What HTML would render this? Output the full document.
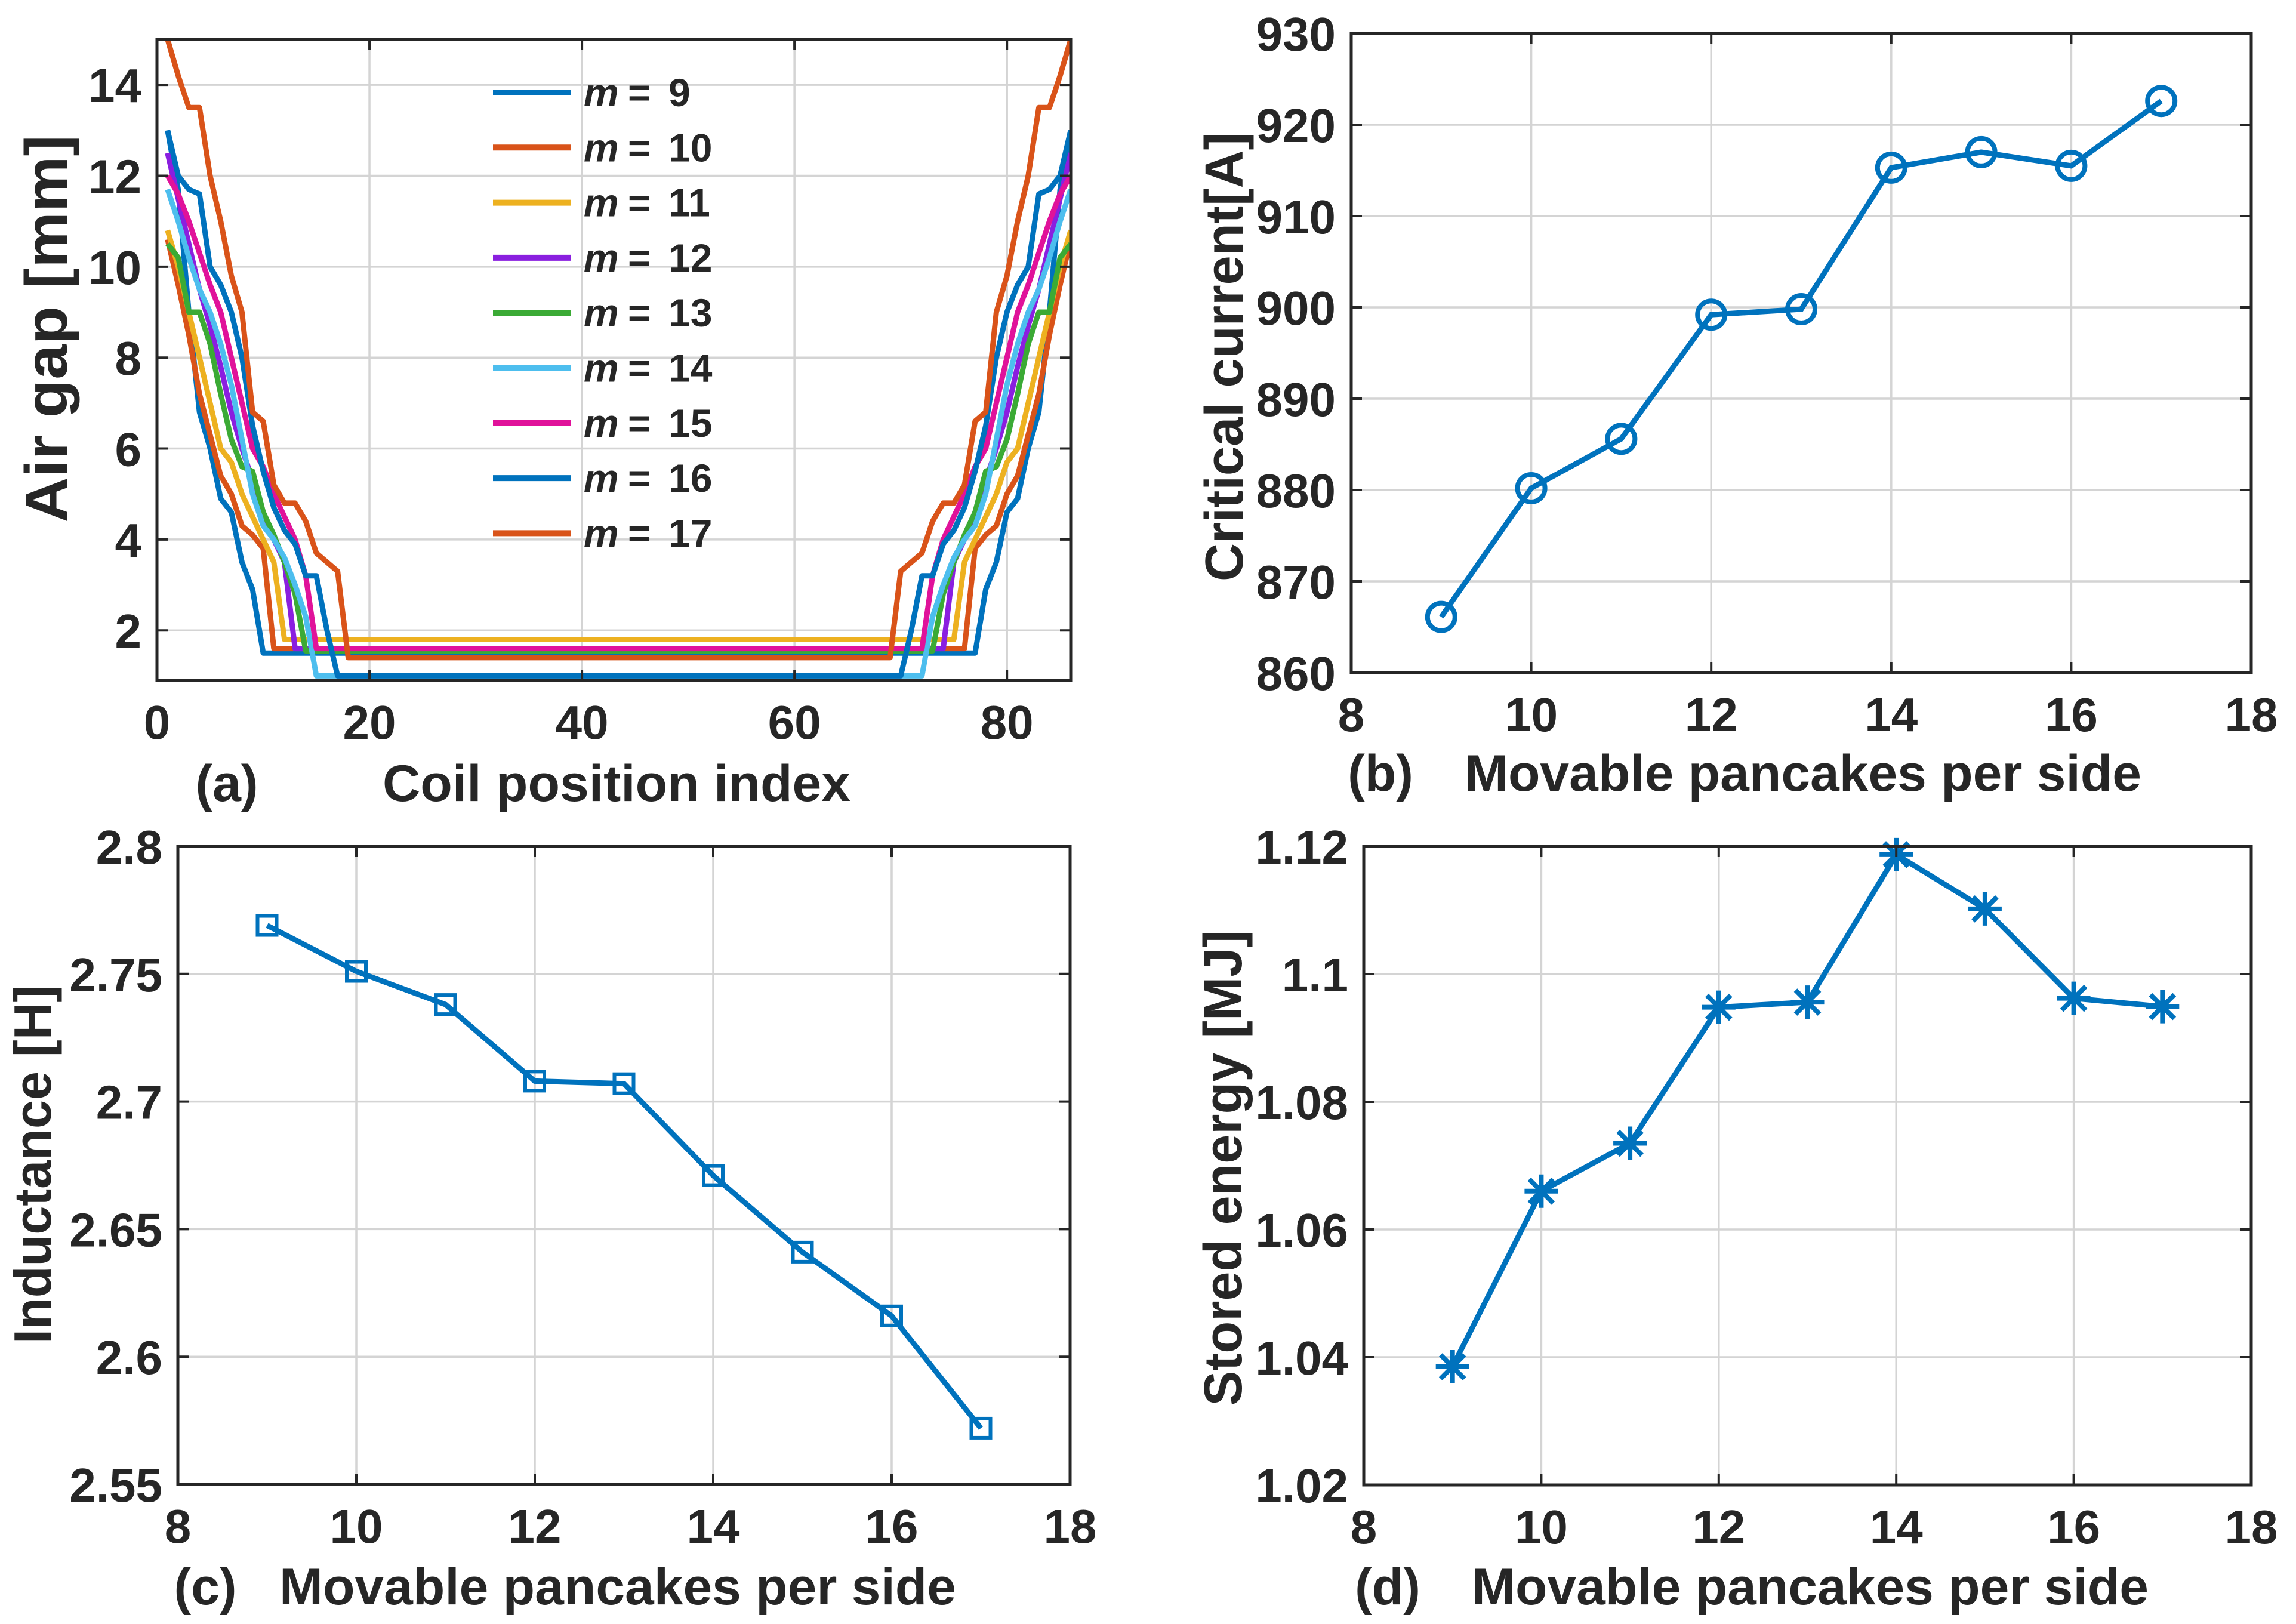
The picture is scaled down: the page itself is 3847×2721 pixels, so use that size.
<!DOCTYPE html>
<html><head><meta charset="utf-8"><style>
html,body{margin:0;padding:0;background:#fff;}
svg{display:block;font-family:"Liberation Sans",Arial,sans-serif;font-weight:bold;}
</style></head><body>
<svg id="fig" width="3847" height="2721" viewBox="0 0 3847 2721" xmlns="http://www.w3.org/2000/svg"></svg>
<script>
// ---- data: panel (a) air gap, left-half keypoints per m (right half is mirrored at 87-x)
const gapLabels = ["9","10","11","12","13","14","15","16","17"];
const gapColors = ["#0072BD","#D95319","#EDB120","#8A1FDF","#3BAA35","#4DBEEE","#E0129A","#0072BD","#D95319"];
const gapX9  = [1,2,3,4,5,6,7,8,9,10];
const gapY9  = [13,11.7,9,6.8,6,4.9,4.6,3.5,2.9,1.5];
const gapX10 = [1,2,3,4,5,6,7,8,9,10,11];
const gapY10 = [10.6,9.6,8.5,7.2,6.3,5.4,5.0,4.3,4.1,3.8,1.6];
const gapX11 = [1,2,3,4,5,6,7,8,9,10,11,12];
const gapY11 = [10.8,10,9,8,7,6,5.7,5,4.5,4,3.5,1.8];
const gapX12 = [1,2,3,4,5,6,7,8,9,10,11,12,13];
const gapY12 = [12.5,11.5,10.5,9.5,8.7,7.8,6.8,6,5.3,4.6,4,3.5,1.6];
const gapX13 = [1,2,3,4,5,6,7,8,9,10,11,12,13,14];
const gapY13 = [10.5,10.2,9,9,8.3,7.2,6.2,5.6,5.5,4.6,4.1,3.5,2.8,1.55];
const gapX14 = [1,2,3,4,5,6,7,8,9,10,11,12,13,14,15];
const gapY14 = [11.7,11,10.2,9.5,9,8.3,7.4,6.2,5,4.3,4,3.6,3,2.3,1.0];
const gapX15 = [1,2,3,4,5,6,7,8,9,10,11,12,13,14,15];
const gapY15 = [12,11.6,11,10.3,9.6,9,8,7,6,5.6,5,4.5,4,3.2,1.6];
const gapX16 = [1,2,3,4,5,6,7,8,9,10,11,12,13,14,15,16,17];
const gapY16 = [13,12,11.7,11.6,10,9.6,9,8,6.5,5.5,4.7,4.2,3.9,3.2,3.2,2.0,1.0];
const gapX17 = [1,2,3,4,5,6,7,8,9,10,11,12,13,14,15,16,17,18];
const gapY17 = [15,14.2,13.5,13.5,12,11,9.8,9,6.8,6.6,5.2,4.8,4.8,4.4,3.7,3.5,3.3,1.4];
// ---- panels (b)(c)(d)
const mVals = [9,10,11,12,13,14,15,16,17];
const critCurrent = [866.1,880.2,885.6,899.2,899.8,915.3,917.0,915.5,922.6];
const inductance = [2.769,2.751,2.738,2.708,2.707,2.671,2.641,2.616,2.572];
const storedEnergy = [1.0385,1.066,1.0735,1.0948,1.0956,1.1187,1.1102,1.0962,1.0949];
const ticksM = [8,10,12,14,16,18];
const ticksGapX = [0,20,40,60,80];
const ticksGapY = [2,4,6,8,10,12,14];
const ticksB = [860,870,880,890,900,910,920,930];
const ticksC = [2.55,2.6,2.65,2.7,2.75,2.8];
const ticksCLabels = ["2.55","2.6","2.65","2.7","2.75","2.8"];
const ticksD = [1.02,1.04,1.06,1.08,1.1,1.12];
const ticksDLabels = ["1.02","1.04","1.06","1.08","1.1","1.12"];

const NS="http://www.w3.org/2000/svg";
const svg=document.getElementById('fig');
function mk(tag,attrs,parent){const e=document.createElementNS(NS,tag);for(const k in attrs)e.setAttribute(k,attrs[k]);(parent||svg).appendChild(e);return e;}

function makeAxes(name,L,R,T,B,x0,x1,y0,y1){
  const g=mk('g',{});
  
  
  return {g,L,R,T,B,sx:v=>L+(v-x0)/(x1-x0)*(R-L),sy:v=>B-(v-y0)/(y1-y0)*(B-T)};
}
function drawFrame(ax,xt,xl,yt,yl){
  const g=ax.g;
  xt.forEach((v,i)=>{const x=ax.sx(v);
    const gl=mk('line',{x1:x,x2:x,y1:ax.T,y2:ax.B,stroke:'#d4d4d4','stroke-width':3.5},g);
    
    
    const t=mk('text',{x:x,y:ax.B+98,'font-size':80,'text-anchor':'middle',fill:'#262626'},g);
    t.textContent=xl[i];
    
    
  });
  yt.forEach((v,i)=>{const y=ax.sy(v);
    const gl=mk('line',{x1:ax.L,x2:ax.R,y1:y,y2:y,stroke:'#d4d4d4','stroke-width':3.5},g);
    
    
    const t=mk('text',{x:ax.L-26,y:y+29,'font-size':80,'text-anchor':'end',fill:'#262626'},g);
    t.textContent=yl[i];
    
    
  });
}
function drawBox(ax,xt,yt){
  const g=ax.g;
  xt.forEach(v=>{const x=ax.sx(v);
    mk('line',{x1:x,x2:x,y1:ax.B,y2:ax.B-18,stroke:'#262626','stroke-width':4},g);
    mk('line',{x1:x,x2:x,y1:ax.T,y2:ax.T+18,stroke:'#262626','stroke-width':4},g);});
  yt.forEach(v=>{const y=ax.sy(v);
    mk('line',{x1:ax.L,x2:ax.L+18,y1:y,y2:y,stroke:'#262626','stroke-width':4},g);
    mk('line',{x1:ax.R,x2:ax.R-18,y1:y,y2:y,stroke:'#262626','stroke-width':4},g);});
  const r=mk('rect',{x:ax.L,y:ax.T,width:ax.R-ax.L,height:ax.B-ax.T,fill:'none',stroke:'#262626','stroke-width':5},g);
  
  
}
function label(txt,x,y,size,name,rot,len){
  const t=mk('text',{x:x,y:y,'font-size':size,'text-anchor':'middle',fill:'#262626'});
  if(rot)t.setAttribute('transform','rotate(-90 '+x+' '+y+')');
  if(len){t.setAttribute('textLength',len);t.setAttribute('lengthAdjust','spacingAndGlyphs');}
  t.textContent=txt;
  
  
  return t;
}

// ===== Panel (a)
const A=makeAxes('panel-a-air-gap',263,1794,66,1140,0,86,0.9,15);
drawFrame(A,ticksGapX,ticksGapX.map(String),ticksGapY,ticksGapY.map(String));
const gapXs=[gapX9,gapX10,gapX11,gapX12,gapX13,gapX14,gapX15,gapX16,gapX17];
const gapYs=[gapY9,gapY10,gapY11,gapY12,gapY13,gapY14,gapY15,gapY16,gapY17];
const clip=mk('clipPath',{id:'clipA'});mk('rect',{x:A.L,y:A.T,width:A.R-A.L,height:A.B-A.T},clip);
gapXs.forEach((xs,i)=>{
  const pts=[];
  xs.forEach((x,j)=>pts.push([x,gapYs[i][j]]));
  for(let j=xs.length-1;j>=0;j--)pts.push([87-xs[j],gapYs[i][j]]);
  const p=mk('polyline',{points:pts.map(q=>A.sx(q[0])+','+A.sy(q[1])).join(' '),fill:'none',stroke:gapColors[i],'stroke-width':9,'stroke-linejoin':'round','clip-path':'url(#clipA)'},A.g);
  
  
});
// legend
gapLabels.forEach((lab,i)=>{
  const y=155+92.3*i;
  const lg=mk('g',{},A.g);
  
  
  mk('line',{x1:826,x2:956,y1:y,y2:y,stroke:gapColors[i],'stroke-width':10},lg);
  const t=mk('text',{x:978,y:y+23,'font-size':66,fill:'#262626'},lg);
  const s1=mk('tspan',{'font-style':'italic'},t);s1.textContent='m';
  const s2=mk('tspan',{x:1052},t);s2.textContent='=';
  const s3=mk('tspan',{x:1120},t);s3.textContent=lab;
});
drawBox(A,ticksGapX,ticksGapY);
label('Air gap [mm]',112,551,100,'y-axis-title-air-gap',true,649);
label('(a)',380,1342,86,'panel-label-a');
label('Coil position index',1033,1342,86,'x-axis-title-coil-index',false,784);

// ===== Panel (b)
const Bx=makeAxes('panel-b-critical-current',2264,3772,56,1127,8,18,860,930);
drawFrame(Bx,ticksM,ticksM.map(String),ticksB,ticksB.map(String));
const bl=mk('polyline',{points:mVals.map((m,i)=>Bx.sx(m)+','+Bx.sy(critCurrent[i])).join(' '),fill:'none',stroke:'#0072BD','stroke-width':9},Bx.g);


mVals.forEach((m,i)=>{
  const c=mk('circle',{cx:Bx.sx(m),cy:Bx.sy(critCurrent[i]),r:23,fill:'none',stroke:'#0072BD','stroke-width':8},Bx.g);
  
  
});
drawBox(Bx,ticksM,ticksB);
label('Critical current[A]',2082,598,90,'y-axis-title-critical-current',true,752);
label('(b)',2313,1325,86,'panel-label-b');
label('Movable pancakes per side',3021,1325,86,'x-axis-title-b',false,1134);

// ===== Panel (c)
const C=makeAxes('panel-c-inductance',298,1793,1418,2487,8,18,2.55,2.8);
drawFrame(C,ticksM,ticksM.map(String),ticksC,ticksCLabels);
const cl=mk('polyline',{points:mVals.map((m,i)=>C.sx(m)+','+C.sy(inductance[i])).join(' '),fill:'none',stroke:'#0072BD','stroke-width':9},C.g);


mVals.forEach((m,i)=>{
  const r=mk('rect',{x:C.sx(m)-16,y:C.sy(inductance[i])-16,width:32,height:32,fill:'none',stroke:'#0072BD','stroke-width':6},C.g);
  
  
});
drawBox(C,ticksM,ticksC);
label('Inductance [H]',85,1951,88,'y-axis-title-inductance',true,600);
label('(c)',344,2688,86,'panel-label-c');
label('Movable pancakes per side',1035,2688,86,'x-axis-title-c',false,1134);

// ===== Panel (d)
const D=makeAxes('panel-d-stored-energy',2285,3772,1418,2488,8,18,1.02,1.12);
drawFrame(D,ticksM,ticksM.map(String),ticksD,ticksDLabels);
const dl=mk('polyline',{points:mVals.map((m,i)=>D.sx(m)+','+D.sy(storedEnergy[i])).join(' '),fill:'none',stroke:'#0072BD','stroke-width':9},D.g);


mVals.forEach((m,i)=>{
  const cx=D.sx(m),cy=D.sy(storedEnergy[i]),h=28,d=20;
  const st=mk('path',{d:`M${cx-h} ${cy}H${cx+h}M${cx} ${cy-h}V${cy+h}M${cx-d} ${cy-d}L${cx+d} ${cy+d}M${cx-d} ${cy+d}L${cx+d} ${cy-d}`,stroke:'#0072BD','stroke-width':8,fill:'none'},D.g);
  
  
});
drawBox(D,ticksM,ticksD);
label('Stored energy [MJ]',2080,1957,90,'y-axis-title-stored-energy',true,797);
label('(d)',2325,2688,86,'panel-label-d');
label('Movable pancakes per side',3033,2688,86,'x-axis-title-d',false,1134);
</script>
</body></html>
